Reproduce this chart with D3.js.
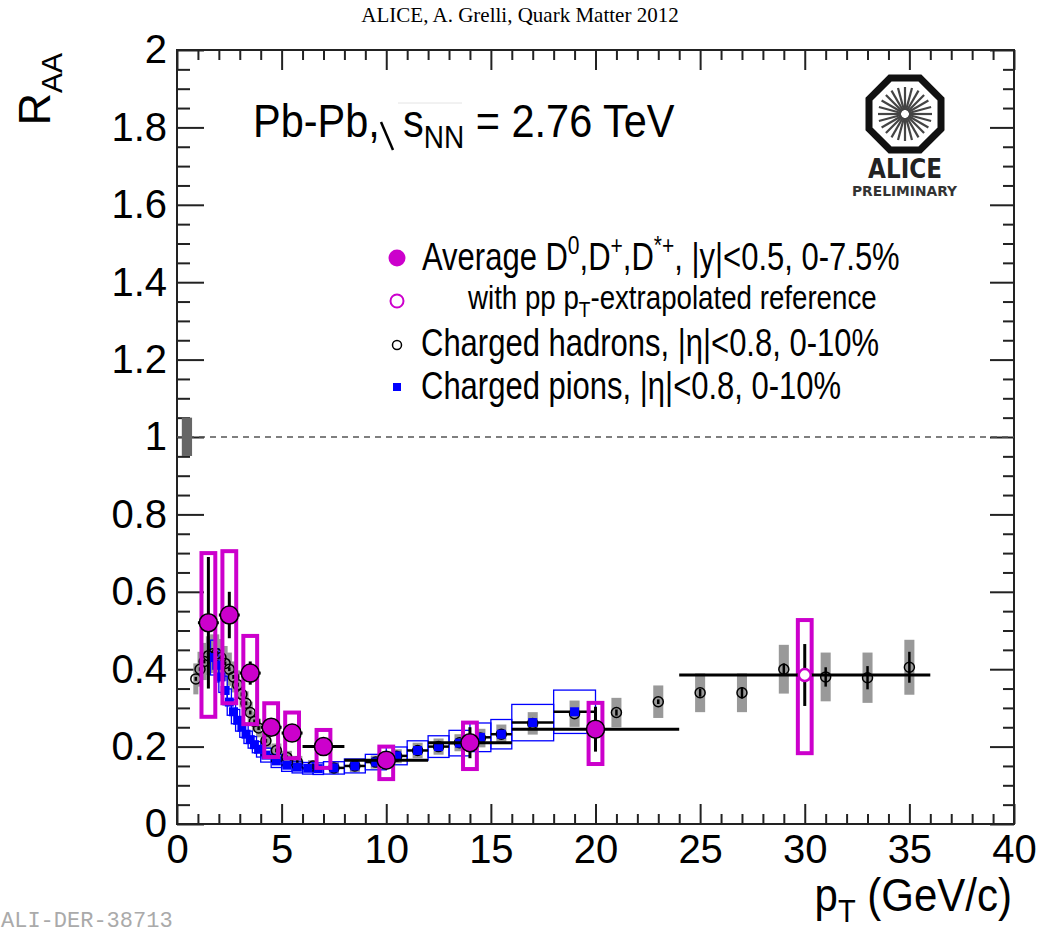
<!DOCTYPE html>
<html>
<head>
<meta charset="utf-8">
<script src="https://cdn.jsdelivr.net/npm/d3@7"></script>
<style>
  body { margin: 0; background: #fff; }
  svg text { font-family: "Liberation Sans", Arial, Helvetica, sans-serif; }
</style>
</head>
<body>
<svg id="drawing_region"></svg>
<script>
// D mesons (average D0, D+, D*+), 0-7.5%
const dPt    = [1.5, 2.5, 3.5, 4.5, 5.5, 7, 10, 14, 20, 30];
const dLo    = [1, 2, 3, 4, 5, 6, 8, 12, 16, 24];
const dHi    = [2, 3, 4, 5, 6, 8, 12, 16, 24, 36];
const dRaa   = [0.52, 0.54, 0.39, 0.25, 0.235, 0.20, 0.165, 0.21, 0.245, 0.385];
const dStat  = [0.17, 0.06, 0.03, 0.012, 0.012, 0.01, 0.01, 0.04, 0.058, 0.08];
const dSysHi = [0.70, 0.705, 0.486, 0.312, 0.288, 0.243, 0.20, 0.262, 0.313, 0.527];
const dSysLo = [0.277, 0.312, 0.258, 0.173, 0.17, 0.145, 0.116, 0.142, 0.155, 0.183];
const dExtrap = [0, 0, 0, 0, 0, 0, 0, 0, 0, 1];

// charged pions, 0-10%
const piPt   = [1.7, 1.9, 2.1, 2.3, 2.5, 2.7, 2.9, 3.1, 3.3, 3.5, 3.7, 3.9, 4.25, 4.75, 5.25, 5.75, 6.25, 6.75, 7.5, 8.5, 9.5, 10.5, 11.5, 12.5, 13.5, 14.5, 15.5, 17, 19];
const piHalf = [0.1, 0.1, 0.1, 0.1, 0.1, 0.1, 0.1, 0.1, 0.1, 0.1, 0.1, 0.1, 0.25, 0.25, 0.25, 0.25, 0.25, 0.25, 0.5, 0.5, 0.5, 0.5, 0.5, 0.5, 0.5, 0.5, 0.5, 1, 1];
const piRaa  = [0.43, 0.41, 0.38, 0.345, 0.315, 0.29, 0.268, 0.25, 0.232, 0.218, 0.205, 0.193, 0.178, 0.163, 0.152, 0.147, 0.144, 0.143, 0.145, 0.15, 0.16, 0.176, 0.19, 0.2, 0.209, 0.224, 0.232, 0.262, 0.29];
const piSys  = [0.045, 0.043, 0.04, 0.037, 0.034, 0.031, 0.028, 0.026, 0.024, 0.022, 0.021, 0.02, 0.018, 0.017, 0.016, 0.015, 0.015, 0.015, 0.016, 0.018, 0.02, 0.023, 0.025, 0.028, 0.033, 0.037, 0.038, 0.047, 0.056];

// charged hadrons, 0-10%
const hPt   = [0.9, 1.1, 1.3, 1.5, 1.7, 1.9, 2.1, 2.3, 2.5, 2.7, 2.9, 3.1, 3.3, 3.5, 3.7, 3.9, 4.25, 4.75, 5.25, 5.75, 6.5, 7.5, 8.5, 9.5, 10.5, 11.5, 12.5, 13.5, 14.5, 15.5, 17, 19, 21, 23, 25, 27, 29, 31, 33, 35];
const hRaa  = [0.375, 0.40, 0.42, 0.435, 0.44, 0.44, 0.43, 0.415, 0.40, 0.38, 0.36, 0.335, 0.312, 0.288, 0.265, 0.248, 0.215, 0.19, 0.172, 0.16, 0.15, 0.145, 0.15, 0.16, 0.175, 0.19, 0.2, 0.21, 0.222, 0.232, 0.26, 0.285, 0.288, 0.316, 0.339, 0.339, 0.40, 0.38, 0.378, 0.405];
const hSys  = [0.04, 0.045, 0.048, 0.05, 0.05, 0.05, 0.048, 0.045, 0.043, 0.04, 0.037, 0.034, 0.031, 0.028, 0.026, 0.024, 0.02, 0.018, 0.017, 0.016, 0.015, 0.015, 0.016, 0.017, 0.018, 0.02, 0.021, 0.022, 0.024, 0.025, 0.029, 0.034, 0.038, 0.042, 0.05, 0.05, 0.063, 0.063, 0.065, 0.071];
const hStat = [0.005, 0.005, 0.005, 0.005, 0.005, 0.005, 0.005, 0.005, 0.005, 0.005, 0.005, 0.005, 0.005, 0.005, 0.005, 0.005, 0.005, 0.005, 0.005, 0.005, 0.005, 0.005, 0.005, 0.005, 0.005, 0.005, 0.005, 0.005, 0.005, 0.005, 0.005, 0.005, 0.008, 0.006, 0.01, 0.015, 0.015, 0.025, 0.03, 0.04];

// normalisation uncertainty at RAA = 1
const normBox = { lo: 0.951, hi: 1.05 };

// axes
const xMajor = [0, 5, 10, 15, 20, 25, 30, 35, 40];
const xLabels = ["0", "5", "10", "15", "20", "25", "30", "35", "40"];
const yMajor = [0, 0.2, 0.4, 0.6, 0.8, 1, 1.2, 1.4, 1.6, 1.8, 2];
const yLabels = ["0", "0.2", "0.4", "0.6", "0.8", "1", "1.2", "1.4", "1.6", "1.8", "2"];

const margin = { top: 50, right: 27, bottom: 106, left: 177 };
const width = 1041, height = 930;
const iw = width - margin.left - margin.right;
const ih = height - margin.top - margin.bottom;

const magenta = '#cc00cc', blue = '#0000ff', grey = '#999999';

const svg = d3.select('#drawing_region').attr('width', width).attr('height', height);
const chart = svg.append('g').attr('transform', `translate(${margin.left}, ${margin.top})`);

const xscale = d3.scaleLinear().domain([0, 40]).range([0, iw]);
const yscale = d3.scaleLinear().domain([0, 2]).range([ih, 0]);

// ----- axes -----
const xMinor = d3.range(0, 41, 1).filter(v => v % 5 !== 0);
const yMinor = d3.range(0, 41, 1).map(v => v * 0.05).filter((v, i) => i % 4 !== 0);

function styleAxis(g) {
  g.select('.domain').remove();
  g.selectAll('line').attr('stroke', '#222').attr('stroke-width', 2);
  g.selectAll('text').attr('fill', '#000').style('font-size', '40px')
    .style('font-family', '"Liberation Sans", Arial, sans-serif');
}

chart.append('g').attr('transform', `translate(0, ${ih})`)
  .call(d3.axisBottom(xscale).tickValues(xMajor).tickFormat((d, i) => xLabels[i]).tickSize(-20).tickSizeOuter(0).tickPadding(11))
  .call(styleAxis);
chart.append('g').attr('transform', `translate(0, ${ih})`)
  .call(d3.axisBottom(xscale).tickValues(xMinor).tickFormat('').tickSize(-10).tickSizeOuter(0))
  .call(styleAxis);
chart.append('g')
  .call(d3.axisTop(xscale).tickValues(xMajor).tickFormat('').tickSize(-20).tickSizeOuter(0))
  .call(styleAxis);
chart.append('g')
  .call(d3.axisTop(xscale).tickValues(xMinor).tickFormat('').tickSize(-10).tickSizeOuter(0))
  .call(styleAxis);

chart.append('g')
  .call(d3.axisLeft(yscale).tickValues(yMajor).tickFormat((d, i) => yLabels[i]).tickSize(-27).tickSizeOuter(0).tickPadding(10))
  .call(styleAxis);
chart.append('g')
  .call(d3.axisLeft(yscale).tickValues(yMinor).tickFormat('').tickSize(-13).tickSizeOuter(0))
  .call(styleAxis);
chart.append('g').attr('transform', `translate(${iw}, 0)`)
  .call(d3.axisRight(yscale).tickValues(yMajor).tickFormat('').tickSize(-24).tickSizeOuter(0))
  .call(styleAxis);
chart.append('g').attr('transform', `translate(${iw}, 0)`)
  .call(d3.axisRight(yscale).tickValues(yMinor).tickFormat('').tickSize(-11).tickSizeOuter(0))
  .call(styleAxis);

chart.append('rect')
  .attr('width', iw).attr('height', ih)
  .attr('fill', 'none').attr('stroke', '#222').attr('stroke-width', 2);

// ----- reference line at 1 -----
chart.append('line')
  .attr('x1', xscale(0)).attr('x2', xscale(40))
  .attr('y1', yscale(1)).attr('y2', yscale(1))
  .attr('stroke', '#555').attr('stroke-width', 1.3).attr('stroke-dasharray', '6,5');

chart.append('rect')
  .attr('x', xscale(0.23)).attr('width', xscale(0.72) - xscale(0.23))
  .attr('y', yscale(normBox.hi)).attr('height', yscale(normBox.lo) - yscale(normBox.hi))
  .attr('fill', '#666');

// ----- charged hadrons: systematics -----
const hadrons = hPt.map((p, i) => ({ pt: p, raa: hRaa[i], sys: hSys[i], stat: hStat[i], hw: p < 4 ? 0.12 : 0.24 }));
const pions = piPt.map((p, i) => ({ pt: p, raa: piRaa[i], sys: piSys[i], hw: piHalf[i] }));
const dmesons = dPt.map((p, i) => ({ pt: p, lo: dLo[i], hi: dHi[i], raa: dRaa[i], stat: dStat[i], sysHi: dSysHi[i], sysLo: dSysLo[i], open: dExtrap[i] === 1 }));

chart.append('g').selectAll('rect')
  .data(hadrons).join('rect')
  .attr('x', d => xscale(d.pt - d.hw))
  .attr('width', d => xscale(d.pt + d.hw) - xscale(d.pt - d.hw))
  .attr('y', d => yscale(d.raa + d.sys))
  .attr('height', d => yscale(d.raa - d.sys) - yscale(d.raa + d.sys))
  .attr('fill', grey);

// ----- pions: systematics -----
chart.append('g').selectAll('rect')
  .data(pions).join('rect')
  .attr('x', d => xscale(d.pt - d.hw))
  .attr('width', d => xscale(d.pt + d.hw) - xscale(d.pt - d.hw))
  .attr('y', d => yscale(d.raa + d.sys))
  .attr('height', d => yscale(d.raa - d.sys) - yscale(d.raa + d.sys))
  .attr('fill', 'none').attr('stroke', blue).attr('stroke-width', 1.3);

// ----- hadrons: stat + markers -----
chart.append('g').selectAll('line')
  .data(hadrons).join('line')
  .attr('x1', d => xscale(d.pt)).attr('x2', d => xscale(d.pt))
  .attr('y1', d => yscale(d.raa + d.stat)).attr('y2', d => yscale(d.raa - d.stat))
  .attr('stroke', '#000').attr('stroke-width', 2.5);
chart.append('g').selectAll('circle')
  .data(hadrons).join('circle')
  .attr('cx', d => xscale(d.pt)).attr('cy', d => yscale(d.raa))
  .attr('r', 5).attr('fill', 'none').attr('stroke', '#000').attr('stroke-width', 1.5);

// ----- pions: x bars + markers -----
chart.append('g').selectAll('line')
  .data(pions).join('line')
  .attr('x1', d => xscale(d.pt - d.hw)).attr('x2', d => xscale(d.pt + d.hw))
  .attr('y1', d => yscale(d.raa)).attr('y2', d => yscale(d.raa))
  .attr('stroke', '#000').attr('stroke-width', 2.5);
chart.append('g').selectAll('rect')
  .data(pions).join('rect')
  .attr('x', d => xscale(d.pt) - 4.5).attr('y', d => yscale(d.raa) - 4.5)
  .attr('width', 9).attr('height', 9).attr('fill', blue);

// ----- D mesons -----
const dhw = 0.33;
chart.append('g').selectAll('rect')
  .data(dmesons).join('rect')
  .attr('x', d => xscale(d.pt - dhw))
  .attr('width', d => xscale(d.pt + dhw) - xscale(d.pt - dhw))
  .attr('y', d => yscale(d.sysHi))
  .attr('height', d => yscale(d.sysLo) - yscale(d.sysHi))
  .attr('fill', 'none').attr('stroke', magenta).attr('stroke-width', 4);
chart.append('g').selectAll('line')
  .data(dmesons).join('line')
  .attr('x1', d => xscale(d.lo)).attr('x2', d => xscale(d.hi))
  .attr('y1', d => yscale(d.raa)).attr('y2', d => yscale(d.raa))
  .attr('stroke', '#000').attr('stroke-width', 3);
chart.append('g').selectAll('line')
  .data(dmesons).join('line')
  .attr('x1', d => xscale(d.pt)).attr('x2', d => xscale(d.pt))
  .attr('y1', d => yscale(d.raa + d.stat)).attr('y2', d => yscale(d.raa - d.stat))
  .attr('stroke', '#000').attr('stroke-width', 3);
chart.append('g').selectAll('circle')
  .data(dmesons).join('circle')
  .attr('cx', d => xscale(d.pt)).attr('cy', d => yscale(d.raa))
  .attr('r', d => d.open ? 6 : 9)
  .attr('fill', d => d.open ? '#fff' : magenta)
  .attr('stroke', d => d.open ? magenta : '#000')
  .attr('stroke-width', d => d.open ? 2.5 : 1.5);

// ----- legend -----
const legend = svg.append('g');
legend.append('circle').attr('cx', 397).attr('cy', 258).attr('r', 8.5).attr('fill', magenta);
legend.append('circle').attr('cx', 397).attr('cy', 301).attr('r', 6.5).attr('fill', 'none').attr('stroke', magenta).attr('stroke-width', 2);
legend.append('circle').attr('cx', 397).attr('cy', 345).attr('r', 4.5).attr('fill', 'none').attr('stroke', '#000').attr('stroke-width', 1.5);
legend.append('rect').attr('x', 393).attr('y', 383).attr('width', 8).attr('height', 8).attr('fill', blue);

function stretched(x, y, size, sy) {
  return svg.append('g').attr('transform', `translate(${x}, ${y}) scale(1, ${sy})`)
    .append('text').style('font-size', size + 'px');
}

let t = stretched(422, 270, 31, 1.25);
t.append('tspan').text('Average D');
t.append('tspan').attr('dy', -13).style('font-size', '21px').text('0');
t.append('tspan').attr('dy', 13).text(',D');
t.append('tspan').attr('dy', -13).style('font-size', '21px').text('+');
t.append('tspan').attr('dy', 13).text(',D');
t.append('tspan').attr('dy', -13).style('font-size', '21px').text('*+');
t.append('tspan').attr('dy', 13).text(', |y|<0.5, 0-7.5%');

t = stretched(468, 309, 27.7, 1.2);
t.append('tspan').text('with pp p');
t.append('tspan').attr('dy', 7).style('font-size', '19px').text('T');
t.append('tspan').attr('dy', -7).text('-extrapolated reference');

stretched(421, 356, 31, 1.25).text('Charged hadrons, |η|<0.8, 0-10%');
stretched(421, 399, 31, 1.25).text('Charged pions, |η|<0.8, 0-10%');

// ----- collision system label -----
stretched(253, 137, 41.5, 1.12).text('Pb-Pb,');
svg.append('line').attr('x1', 381).attr('y1', 122).attr('x2', 393).attr('y2', 150)
  .attr('stroke', '#000').attr('stroke-width', 2.5);
svg.append('line').attr('x1', 398).attr('y1', 103).attr('x2', 462).attr('y2', 103)
  .attr('stroke', '#e4e4e4').attr('stroke-width', 1);
t = stretched(403, 137, 41.5, 1.12);
t.append('tspan').text('s');
t.append('tspan').attr('dy', 10).style('font-size', '28px').text('NN');
t.append('tspan').attr('dy', -10).text(' = 2.76 TeV');

// ----- axis titles -----
const ytitle = svg.append('text')
  .attr('transform', 'translate(50, 53) rotate(-90)')
  .attr('text-anchor', 'end')
  .style('font-size', '45px');
ytitle.append('tspan').text('R');
ytitle.append('tspan').attr('dy', 12).style('font-size', '30px').text('AA');

const xtitle = svg.append('g').attr('transform', 'translate(1012, 911) scale(1, 1.08)')
  .append('text').attr('text-anchor', 'end').style('font-size', '42px');
xtitle.append('tspan').text('p');
xtitle.append('tspan').attr('dy', 10).style('font-size', '29px').text('T');
xtitle.append('tspan').attr('dy', -10).text(' (GeV/c)');

// ----- header and footer -----
svg.append('text')
  .attr('x', 520).attr('y', 22).attr('text-anchor', 'middle')
  .style('font-family', '"Liberation Serif", "Times New Roman", serif')
  .style('font-size', '21px')
  .text('ALICE, A. Grelli, Quark Matter 2012');

svg.append('text')
  .attr('x', 1).attr('y', 927)
  .style('font-family', '"Liberation Mono", "Courier New", monospace')
  .style('font-size', '22px').attr('fill', '#aaa')
  .text('ALI-DER-38713');

// ----- ALICE logo -----
const logo = svg.append('g').attr('transform', 'translate(905, 114)');
const octR = 36 / Math.cos(Math.PI / 8);
const octPts = d3.range(8).map(k => {
  const a = Math.PI / 8 + k * Math.PI / 4;
  return [octR * Math.cos(a), octR * Math.sin(a)];
});
logo.append('path').attr('d', d3.line()(octPts) + 'Z')
  .attr('fill', 'none').attr('stroke', '#111').attr('stroke-width', 7);
logo.selectAll('line.ray')
  .data(d3.range(24)).join('line')
  .attr('x1', k => 4 * Math.cos(k * Math.PI / 12)).attr('y1', k => 4 * Math.sin(k * Math.PI / 12))
  .attr('x2', k => 27 * Math.cos(k * Math.PI / 12)).attr('y2', k => 27 * Math.sin(k * Math.PI / 12))
  .attr('stroke', '#444').attr('stroke-width', 2.2);
svg.append('text').attr('x', 868).attr('y', 178)
  .attr('textLength', 74).attr('lengthAdjust', 'spacingAndGlyphs')
  .style('font-family', '"DejaVu Sans", sans-serif').style('font-weight', 'bold').style('font-size', '27px')
  .attr('fill', '#222').text('ALICE');
svg.append('text').attr('x', 852).attr('y', 196)
  .attr('textLength', 105).attr('lengthAdjust', 'spacingAndGlyphs')
  .style('font-family', '"DejaVu Sans", sans-serif').style('font-weight', 'bold').style('font-size', '14px')
  .attr('fill', '#333').text('PRELIMINARY');
</script>
</body>
</html>
